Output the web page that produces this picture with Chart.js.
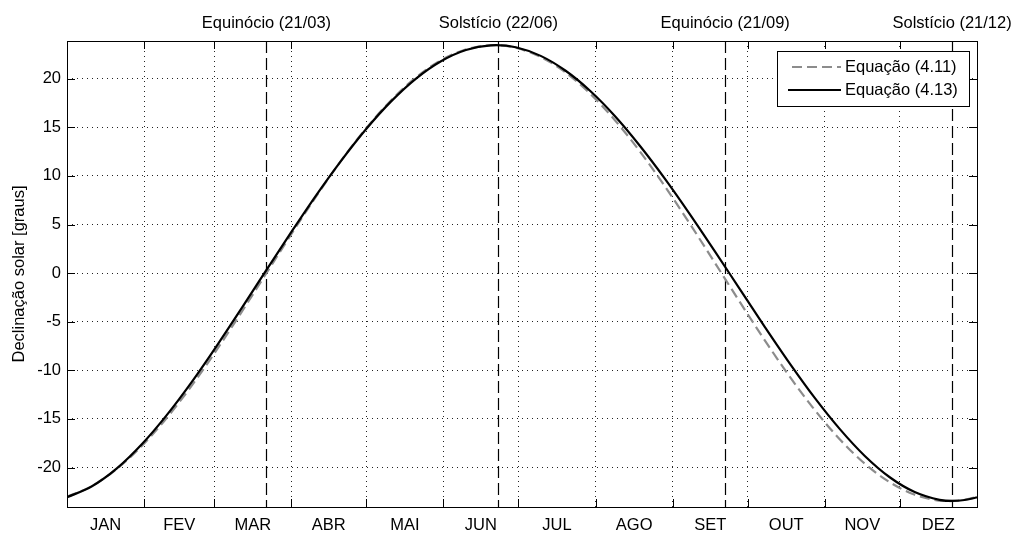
<!DOCTYPE html>
<html>
<head>
<meta charset="utf-8">
<script src="https://cdn.jsdelivr.net/npm/chart.js@4.4.1/dist/chart.umd.min.js"></script>
<style>
    body { margin: 0; background: #fff; }
    #wrap { width: 1012px; height: 534px; }
</style>
</head>
<body>
<div id="wrap"><canvas id="chart" width="1012" height="534"></canvas></div>
<script>
// Chart Data
const months = ['JAN', 'FEV', 'MAR', 'ABR', 'MAI', 'JUN', 'JUL', 'AGO', 'SET', 'OUT', 'NOV', 'DEZ'];
const monthEdges = [0, 31, 59, 90, 120, 151, 181, 212, 243, 273, 304, 334, 365];
const eventDays = [80, 173, 264, 355];
const eventLabels = ['Equinócio (21/03)', 'Solstício (22/06)', 'Equinócio (21/09)', 'Solstício (21/12)'];
const yTicks = [-20, -15, -10, -5, 0, 5, 10, 15, 20];

// Equação (4.11) - dashed grey
const days411 = [0, 9, 19, 29, 39, 49, 59, 69, 79, 89, 99, 109, 119, 129, 139, 149, 159, 169, 171, 179,
    189, 199, 209, 219, 229, 239, 249, 259, 269, 279, 289, 299, 309, 319, 329, 339, 349, 354, 359, 364, 365];
const decl411 = [-23.01, -22.04, -20.34, -18.04, -15.21, -11.93, -8.29, -4.41, -0.40, 3.62, 7.53, 11.23, 14.59, 17.51, 19.93, 21.75, 22.93, 23.43, 23.45, 23.24,
    22.36, 20.83, 18.67, 15.96, 12.79, 9.23, 5.40, 1.41, -2.62, -6.57, -10.33, -13.78, -16.83, -19.38, -21.35, -22.70, -23.37, -23.45, -23.35, -23.09, -23.01];

// Equação (4.13) - solid black
const days413 = [0, 10, 20, 30, 40, 50, 60, 70, 80, 90, 100, 110, 120, 130, 140, 150, 160, 170, 172, 180,
    190, 200, 210, 220, 230, 240, 250, 260, 270, 280, 290, 300, 310, 320, 330, 340, 350, 355, 360, 364, 365];
const decl413 = [-23.06, -21.93, -20.09, -17.61, -14.61, -11.21, -7.50, -3.62, 0.33, 4.24, 8.03, 11.58, 14.83, 17.67, 20.02, 21.80, 22.96, 23.44, 23.45, 23.24,
    22.35, 20.82, 18.71, 16.09, 13.03, 9.65, 6.00, 2.19, -1.70, -5.57, -9.33, -12.86, -16.05, -18.81, -21.00, -22.52, -23.32, -23.44, -23.34, -23.13, -23.06];

const FAMILY = "'Liberation Sans', Arial, sans-serif";
const FONT = "16.5px " + FAMILY;
const GREY = '#8c8c8c';

function toPoints(xs, ys) {
    return xs.map((x, i) => ({ x: x, y: ys[i] }));
}

// Extra drawing: border, inward ticks, month names, event lines, legend
const decorPlugin = {
    id: 'decor',
    beforeDraw(chart) {
        const ctx = chart.ctx;
        ctx.save();
        ctx.fillStyle = '#fff';
        ctx.fillRect(0, 0, chart.width, chart.height);
        ctx.restore();
    },
    beforeDatasetsDraw(chart) {
        const { ctx, chartArea: a, scales: { x } } = chart;
        ctx.save();
        ctx.strokeStyle = '#000';
        ctx.lineWidth = 1.2;
        ctx.setLineDash([12, 5]);
        eventDays.forEach(d => {
            const px = Math.round(x.getPixelForValue(d)) + 0.5;
            ctx.beginPath();
            ctx.moveTo(px, a.top);
            ctx.lineTo(px, a.bottom);
            ctx.stroke();
        });
        ctx.restore();
    },
    afterDraw(chart) {
        const { ctx, chartArea: a, scales: { x, y } } = chart;
        ctx.save();

        // axes box
        ctx.strokeStyle = '#000';
        ctx.lineWidth = 1;
        ctx.strokeRect(a.left + 0.5, a.top + 0.5, a.right - a.left, a.bottom - a.top);

        // inward ticks
        const tl = 8;
        ctx.beginPath();
        monthEdges.slice(1, -1).forEach(d => {
            const px = Math.round(x.getPixelForValue(d)) + 0.5;
            ctx.moveTo(px, a.bottom); ctx.lineTo(px, a.bottom - tl);
            ctx.moveTo(px, a.top); ctx.lineTo(px, a.top + tl);
        });
        yTicks.forEach(v => {
            const py = Math.round(y.getPixelForValue(v)) + 0.5;
            ctx.moveTo(a.left, py); ctx.lineTo(a.left + tl, py);
            ctx.moveTo(a.right, py); ctx.lineTo(a.right - tl, py);
        });
        ctx.stroke();

        // month names
        ctx.fillStyle = '#000';
        ctx.font = FONT;
        ctx.textAlign = 'center';
        ctx.textBaseline = 'middle';
        months.forEach((m, i) => {
            const px = x.getPixelForValue((monthEdges[i] + monthEdges[i + 1]) / 2);
            ctx.fillText(m, px, 525);
        });

        // event labels on top
        eventLabels.forEach((t, i) => {
            ctx.fillText(t, x.getPixelForValue(eventDays[i]), 23);
        });

        // legend
        const lx = 777, ly = 51, lw = 192, lh = 55;
        ctx.fillStyle = '#fff';
        ctx.fillRect(lx, ly, lw, lh);
        ctx.strokeStyle = '#000';
        ctx.strokeRect(lx + 0.5, ly + 0.5, lw, lh);

        ctx.lineWidth = 2;
        ctx.strokeStyle = GREY;
        ctx.setLineDash([10, 5]);
        ctx.beginPath();
        ctx.moveTo(792, 67); ctx.lineTo(841, 67);
        ctx.stroke();
        ctx.setLineDash([]);
        ctx.strokeStyle = '#000';
        ctx.beginPath();
        ctx.moveTo(788, 90); ctx.lineTo(841, 90);
        ctx.stroke();

        ctx.fillStyle = '#000';
        ctx.textAlign = 'left';
        ctx.fillText('Equação (4.11)', 845, 67);
        ctx.fillText('Equação (4.13)', 845, 90);
        ctx.restore();
    }
};

const ctx = document.getElementById('chart');
new Chart(ctx, {
    type: 'line',
    data: {
        datasets: [
            {
                label: 'Equação (4.13)',
                data: toPoints(days413, decl413),
                borderColor: '#000',
                borderWidth: 2.2,
                pointRadius: 0,
                cubicInterpolationMode: 'monotone',
                order: 0
            },
            {
                label: 'Equação (4.11)',
                data: toPoints(days411, decl411),
                borderColor: GREY,
                borderWidth: 2.2,
                borderDash: [10, 5],
                pointRadius: 0,
                cubicInterpolationMode: 'monotone',
                order: 1
            }
        ]
    },
    options: {
        responsive: false,
        animation: false,
        layout: { padding: { top: 41, right: 35, left: 0, bottom: 0 } },
        plugins: {
            legend: { display: false },
            tooltip: { enabled: false }
        },
        scales: {
            x: {
                type: 'linear',
                min: 0,
                max: 365,
                afterBuildTicks: scale => {
                    scale.ticks = monthEdges.slice(1, -1).map(v => ({ value: v }));
                },
                afterFit: scale => { scale.height = 27; },
                ticks: { display: false },
                grid: { color: '#222', lineWidth: 1, drawTicks: false },
                border: { display: false, dash: [1, 4] }
            },
            y: {
                min: -24.06,
                max: 23.88,
                afterBuildTicks: scale => {
                    scale.ticks = yTicks.map(v => ({ value: v }));
                },
                afterFit: scale => { scale.width = 67; },
                ticks: {
                    color: '#000',
                    padding: 6,
                    font: { family: FAMILY, size: 16.5 }
                },
                grid: { color: '#222', lineWidth: 1, drawTicks: false },
                border: { display: false, dash: [1, 4] },
                title: {
                    display: true,
                    text: 'Declinação solar [graus]',
                    color: '#000',
                    padding: { top: 10, bottom: 0 },
                    font: { family: FAMILY, size: 16.5 }
                }
            }
        }
    },
    plugins: [decorPlugin]
});
</script>
</body>
</html>
